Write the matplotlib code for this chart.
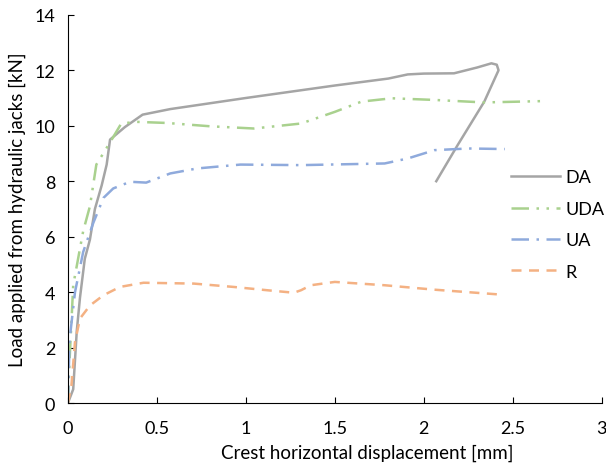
import matplotlib.pyplot as plt

plt.rcParams['font.family'] = ['Lato', 'DejaVu Sans']

# DA - gray solid
da_x = [0, 0.03, 0.05, 0.068, 0.095, 0.124, 0.152, 0.19, 0.218, 0.237, 0.32, 0.42, 0.575,
        1.0, 1.5, 1.8, 1.91, 2.0, 2.17, 2.3, 2.38, 2.41, 2.42, 2.34, 2.19, 2.07]
da_y = [0, 0.5, 2.6, 3.8, 5.2, 5.9, 7.0, 7.85, 8.6, 9.5, 9.95, 10.4, 10.6,
        11.0, 11.45, 11.7, 11.85, 11.88, 11.89, 12.1, 12.25, 12.2, 12.0, 10.87, 9.3, 8.0]

# UDA - green dash dot dot
uda_x = [0, 0.01, 0.03, 0.086, 0.124, 0.16, 0.237, 0.30, 0.385, 0.557, 0.8, 1.045,
         1.31, 1.5, 1.65, 1.82, 2.06, 2.34, 2.68]
uda_y = [0, 1.6, 4.25, 6.2, 7.1, 8.6, 9.4, 10.08, 10.14, 10.1, 9.98, 9.9,
         10.08, 10.5, 10.87, 10.99, 10.93, 10.84, 10.89]

# UA - blue dash dot
ua_x = [0, 0.01, 0.04, 0.086, 0.143, 0.2, 0.255, 0.35, 0.44, 0.575, 0.726, 0.97,
        1.31, 1.78, 1.91, 2.06, 2.25, 2.455]
ua_y = [0, 2.3, 4.0, 5.45, 6.5, 7.4, 7.74, 7.98, 7.95, 8.28, 8.46, 8.6,
        8.58, 8.64, 8.82, 9.12, 9.18, 9.16]

# R - orange dashed
r_x = [0, 0.02, 0.04, 0.068, 0.124, 0.2, 0.293, 0.425, 0.707, 0.93, 1.12, 1.27,
       1.31, 1.365, 1.5, 1.78, 2.06, 2.44]
r_y = [0, 0.63, 2.2, 3.05, 3.52, 3.89, 4.19, 4.34, 4.31, 4.19, 4.07, 3.98,
       4.07, 4.25, 4.37, 4.25, 4.09, 3.91]

fig = plt.figure(figsize=(6.06, 4.64), dpi=100)
ax = fig.add_axes([0.112, 0.129, 0.881, 0.837])

ax.plot(da_x, da_y, color='#A5A5A5', lw=1.8, label='DA')
ax.plot(uda_x, uda_y, color='#A9D18E', lw=1.8, linestyle=(0, (7, 3, 1, 3, 1, 3)), label='UDA')
ax.plot(ua_x, ua_y, color='#8FAADC', lw=1.8, linestyle=(0, (7, 3, 1, 3)), label='UA')
ax.plot(r_x, r_y, color='#F4B183', lw=1.8, linestyle=(0, (4, 3)), label='R')

ax.set_xlim(0, 3)
ax.set_ylim(0, 14)
ax.set_xticks([0, 0.5, 1, 1.5, 2, 2.5, 3])
ax.set_xticklabels(['0', '0.5', '1', '1.5', '2', '2.5', '3'])
ax.set_yticks(range(0, 15, 2))
ax.spines['top'].set_visible(False)
ax.spines['right'].set_visible(False)
ax.tick_params(direction='in', length=4, labelsize=13)
ax.tick_params(axis='x', pad=12)
ax.tick_params(axis='y', pad=9)
ax.set_xlabel('Crest horizontal displacement [mm]', fontsize=13.5)
ax.set_ylabel('Load applied from hydraulic jacks [kN]', fontsize=13.5, labelpad=6)
ax.xaxis.set_label_coords(0.56, -0.105)

ax.legend(loc='center left', bbox_to_anchor=(0.80, 0.46), frameon=False, fontsize=13,
          handlelength=2.7, handletextpad=0.3, labelspacing=0.85)

fig.savefig('out.png')
